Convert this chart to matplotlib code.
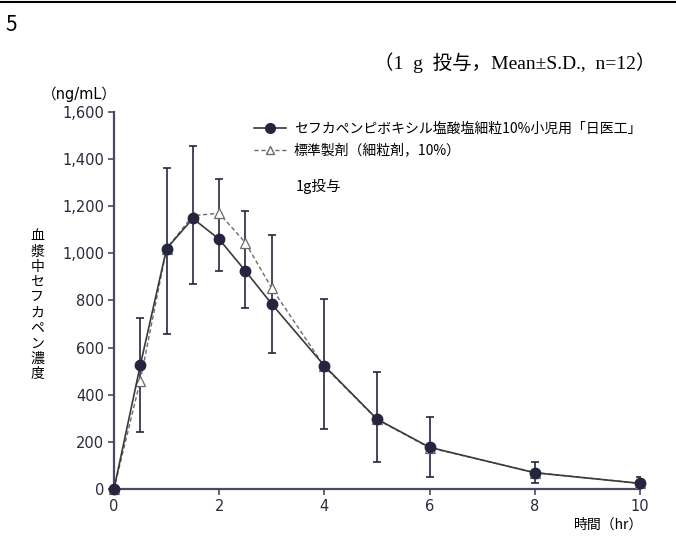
import numpy as np
import matplotlib
matplotlib.use('Agg')
from matplotlib import pyplot as plt
from matplotlib.lines import Line2D
from matplotlib.ticker import FuncFormatter

plt.rcParams['font.family'] = ['Noto Sans CJK JP', 'DejaVu Sans']
plt.rcParams['font.size'] = 10

# time (hr)
hours = [0, 0.5, 1, 1.5, 2, 2.5, 3, 4, 5, 6, 8, 10]
# test product (filled circles), ng/mL
test_mean = [0, 525, 1020, 1148, 1060, 925, 785, 523, 297, 177, 69, 24]
# reference product (open triangles), ng/mL
ref_mean = [0, 460, 1020, 1160, 1170, 1045, 852, 520, 295, 175, 70, 24]
# error bar ends
bar_top = [0, 727, 1361, 1456, 1317, 1180, 1077, 806, 498, 304, 116, 51]
bar_bottom = [0, 241, 658, 870, 927, 767, 579, 253, 116, 52, 24, 10]

yticks = [0, 200, 400, 600, 800, 1000, 1200, 1400, 1600]
xticks = [0, 2, 4, 6, 8, 10]

navy = '#25253f'
axis_col = '#4a4a62'

fig = plt.figure(figsize=(6.76, 5.41), dpi=100)
ax = fig.add_axes([0.1686, 0.0961, 0.778, 0.697])

t = np.array(hours)
m = np.array(test_mean)
yerr = [m - np.array(bar_bottom), np.array(bar_top) - m]
ax.errorbar(t[1:], m[1:], yerr=[yerr[0][1:], yerr[1][1:]], fmt='none',
            ecolor=navy, elinewidth=1.2, capsize=3, capthick=1.2, zorder=2)

ax.plot(hours, ref_mean, linestyle=(0, (3, 2)), color='#6a6a6a', lw=1.0,
        marker='^', markersize=6.5, markerfacecolor='white',
        markeredgecolor='#6a6a6a', markeredgewidth=0.9, clip_on=False, zorder=3)
ax.plot(hours, test_mean, linestyle='-', color='#3a3a3a', lw=1.2,
        marker='o', markersize=7.5, markerfacecolor=navy,
        markeredgecolor=navy, clip_on=False, zorder=4)

ax.set_xlim(0, 10)
ax.set_ylim(0, 1600)
ax.set_xticks(xticks)
ax.set_yticks(yticks)
ax.yaxis.set_major_formatter(FuncFormatter(lambda v, p: f'{int(v):,}'))
for s in ['top', 'right']:
    ax.spines[s].set_visible(False)
for s in ['left', 'bottom']:
    ax.spines[s].set_color(axis_col)
    ax.spines[s].set_linewidth(1.6)
ax.tick_params(direction='out', length=4, width=1.2, color=axis_col,
               labelcolor='#2a2a3a', labelsize=10.5, pad=3)
for lab in ax.get_xticklabels() + ax.get_yticklabels():
    lab.set_family('DejaVu Sans')

handles = [
    Line2D([], [], color='#3a3a3a', lw=1.2, marker='o', markersize=7,
           markerfacecolor=navy, markeredgecolor=navy),
    Line2D([], [], color='#6a6a6a', lw=1.0, linestyle=(0, (3, 2)), marker='^',
           markersize=6, markerfacecolor='white', markeredgecolor='#6a6a6a'),
]
labels = ['セフカペンピボキシル塩酸塩細粒10%小児用「日医工」', '標準製剤（細粒剤，10%）']
ax.legend(handles, labels, loc='upper left', frameon=False, fontsize=10,
          handlelength=2.3, handletextpad=0.6, labelspacing=0.55, borderaxespad=0)
leg = ax.get_legend()
leg.set_bbox_to_anchor((0.367, 0.785), transform=fig.transFigure)

fig.text(0.438, 0.656, '1g投与', fontsize=10.5, va='center', ha='left')

# y label stacked vertically
ylab = '血漿中セフカペン濃度'
fig.text(0.055, 0.436, '\n'.join(ylab), fontsize=10, ha='center', va='center',
         linespacing=1.12)
fig.text(0.118, 0.826, '（ng/mL）', fontsize=10.5, ha='center', va='center',
         family=['DejaVu Sans', 'Noto Sans CJK JP'])
fig.text(0.952, 0.03, '時間（hr）', fontsize=10, ha='right', va='center')

fig.text(0.97, 0.885, '（1  g  投与，Mean±S.D.,  n=12）', fontsize=14,
         ha='right', va='center', family=['Liberation Serif', 'Noto Sans CJK JP'])
fig.text(0.008, 0.953, '5', fontsize=15, ha='left', va='center')

fig.add_artist(Line2D([0, 1], [0.996, 0.996], transform=fig.transFigure,
                      color='black', lw=1.5))

fig.savefig('out.png', dpi=100)
